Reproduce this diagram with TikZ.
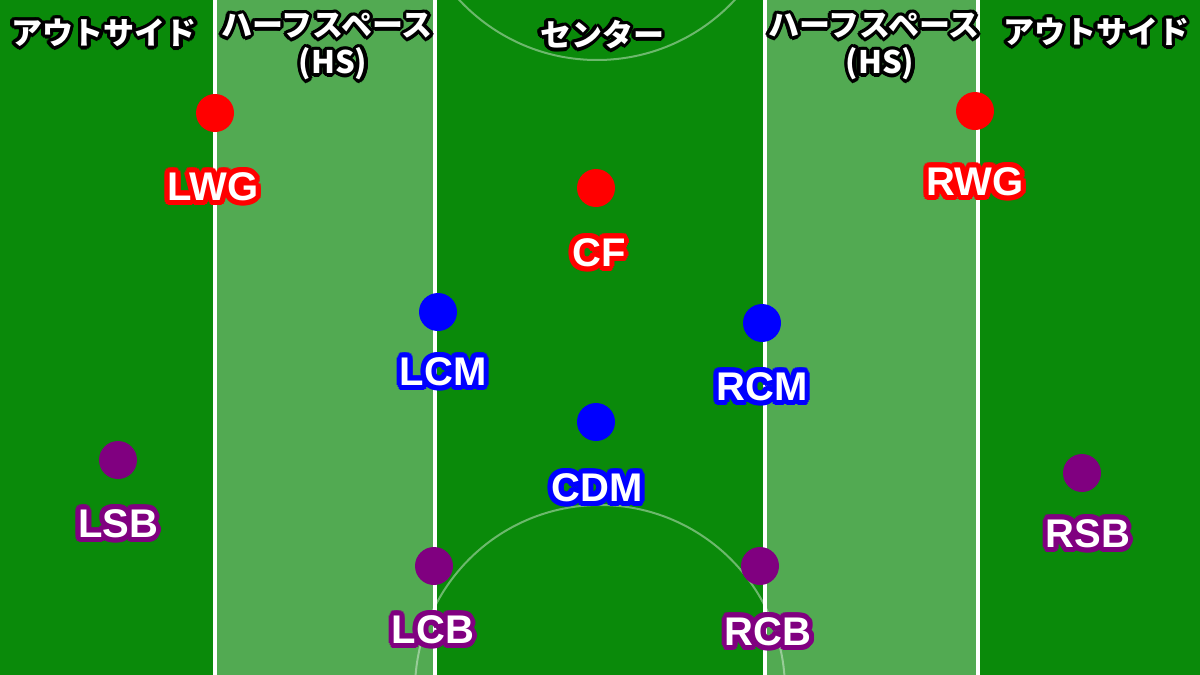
\documentclass[tikz,border=0pt]{standalone}
\usepackage{fontspec}
\setmainfont{Liberation Sans}
\newfontfamily\jpfont{Noto Sans CJK JP}
\definecolor{field}{RGB}{10,138,10}
\definecolor{halfspace}{RGB}{82,170,82}
\definecolor{fwred}{RGB}{255,0,0}
\definecolor{mfblue}{RGB}{0,0,255}
\definecolor{dfpurple}{RGB}{128,0,128}
\newcommand{\rimtext}[6]{%
  \foreach \a in {0,22.5,...,337.5}
    \node[#3,text=#4,shift={(\a:#5)}] at #2 {#6};
  \node[#3,text=white] (#1) at #2 {#6};}
\begin{document}
\begin{tikzpicture}[x=1pt,y=-1pt,
    player/.style={circle,fill=#1,minimum size=38pt,inner sep=0pt},
    role/.style={font=\fontsize{40}{40}\selectfont\bfseries,inner sep=0pt,text height=29pt,text depth=0pt},
    zone/.style={font=\fontsize{31}{31}\selectfont\jpfont\bfseries,inner sep=0pt,text height=27pt,text depth=4pt},
    touch/.style={white,line width=4pt},
    arcline/.style={white,opacity=0.4,line width=2pt}]
  \fill[field] (0,0) rectangle (1200,675);
  \useasboundingbox (0,0) rectangle (1200,675);
  \fill[halfspace] (215,0) rectangle (435,675);
  \fill[halfspace] (765,0) rectangle (978,675);
  \draw[arcline] (597,-128) circle[radius=188];
  \draw[arcline] (600,690) circle[radius=185];
  \begin{scope}[touch]
    \draw (215,0) -- (215,675);
    \draw (435,0) -- (435,675);
    \draw (765,0) -- (765,675);
    \draw (978,0) -- (978,675);
  \end{scope}
  \rimtext{out-l}{(104,33)}{zone}{black}{3.5pt}{アウトサイド}
  \rimtext{hs-l}{(327,25)}{zone}{black}{3.5pt}{ハーフスペース}
  \rimtext{hs-l2}{(333,62)}{zone}{black}{3.5pt}{(HS)}
  \rimtext{center}{(602,35)}{zone}{black}{3.5pt}{センター}
  \rimtext{hs-r}{(874,25)}{zone}{black}{3.5pt}{ハーフスペース}
  \rimtext{hs-r2}{(880,62)}{zone}{black}{3.5pt}{(HS)}
  \rimtext{out-r}{(1096,32)}{zone}{black}{3.5pt}{アウトサイド}
  \node[player=fwred] (lwg) at (215,113) {};
  \node[player=fwred] (cf) at (596,188) {};
  \node[player=fwred] (rwg) at (975,111) {};
  \node[player=mfblue] (lcm) at (438,312) {};
  \node[player=mfblue] (rcm) at (762,323) {};
  \node[player=mfblue] (cdm) at (596,422) {};
  \node[player=dfpurple] (lsb) at (118,460) {};
  \node[player=dfpurple] (rsb) at (1082,473) {};
  \node[player=dfpurple] (lcb) at (434,566) {};
  \node[player=dfpurple] (rcb) at (760,566) {};
  \rimtext{lwg-text}{(213,186)}{role}{fwred}{5pt}{LWG}
  \rimtext{cf-text}{(599,252)}{role}{fwred}{5pt}{CF}
  \rimtext{rwg-text}{(975,181)}{role}{fwred}{5pt}{RWG}
  \rimtext{lcm-text}{(443,371)}{role}{mfblue}{5pt}{LCM}
  \rimtext{rcm-text}{(762,386)}{role}{mfblue}{5pt}{RCM}
  \rimtext{cdm-text}{(597,487)}{role}{mfblue}{5pt}{CDM}
  \rimtext{lsb-text}{(118,523)}{role}{dfpurple}{5pt}{LSB}
  \rimtext{rsb-text}{(1088,533)}{role}{dfpurple}{5pt}{RSB}
  \rimtext{lcb-text}{(433,629)}{role}{dfpurple}{5pt}{LCB}
  \rimtext{rcb-text}{(768,631)}{role}{dfpurple}{5pt}{RCB}
\end{tikzpicture}
\end{document}
